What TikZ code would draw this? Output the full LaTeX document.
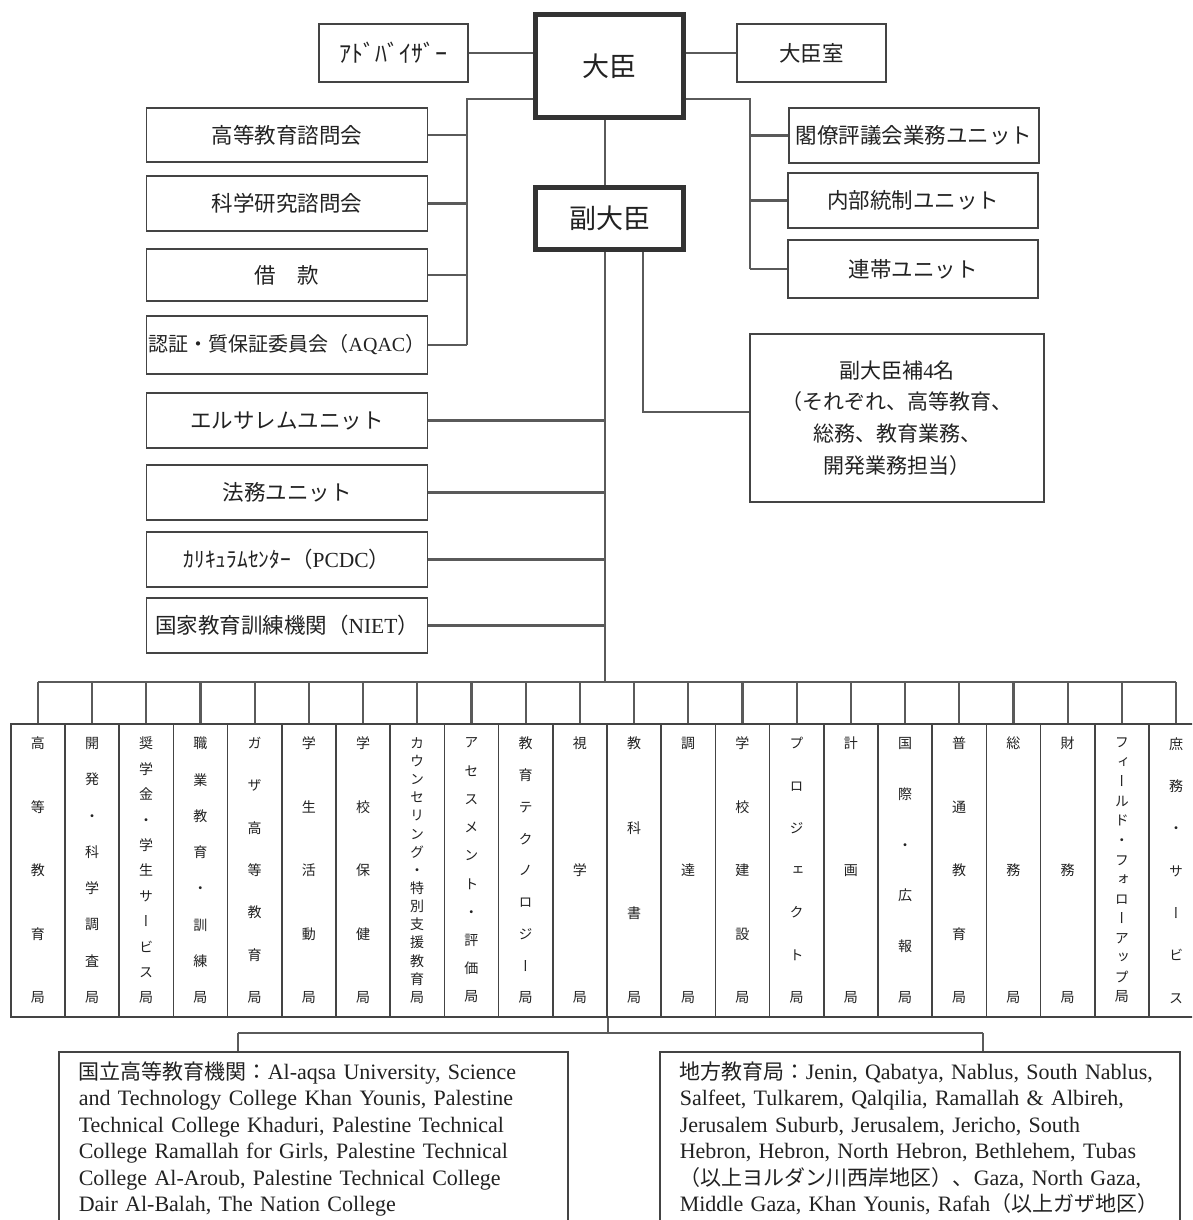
\documentclass[tikz,border=0pt]{standalone}
\usepackage{fontspec}
\setmainfont{Liberation Serif}
\newfontfamily\cjk{Noto Sans CJK JP}
\newfontfamily\cjkv[RawFeature=+vert]{Noto Sans CJK JP}
\definecolor{boxc}{HTML}{444444}
\definecolor{linec}{HTML}{5A5A5A}
\definecolor{bigc}{HTML}{333333}
\definecolor{txt}{HTML}{222222}
\newcommand\colnode[3]{\node[colbox, font={\cjkv\fontsize{14}{#2}\selectfont}] (c#1) at ({37.8+54.2*(#1-1)},870.5) {#3};}
\newcommand\jp[1]{{\cjk\fontsize{21}{26.4}\selectfont #1}}
\begin{document}
\begin{tikzpicture}[x=1pt,y=-1pt,
  box/.style={draw=boxc, line width=1.6pt, rectangle, inner sep=0pt, align=center, text=txt, font={\cjk\fontsize{21.5}{25}\selectfont}},
  bigbox/.style={draw=bigc, line width=5pt, rectangle, inner sep=0pt, align=center, text=txt, font={\cjk\fontsize{27}{32}\selectfont}},
  conn/.style={draw=linec, line width=2.2pt},
  colbox/.style={draw=boxc, line width=1.6pt, rectangle, inner sep=0pt, minimum width=54.2pt, minimum height=293pt, align=center, text=txt},
  infobox/.style={draw=boxc, line width=1.6pt, rectangle, anchor=north west, inner xsep=20pt, inner ysep=10pt, align=left, text=txt, font={\fontsize{22}{26.4}\selectfont}}
]
\useasboundingbox (0,0) rectangle (1192,1220);
\fill[white] (0,0) rectangle (1192,1220);
\clip (0,0) rectangle (1192,1220);

% top level
\node[bigbox, minimum width=148pt, minimum height=103pt] (min) at (609.5,66) {大臣};
\node[box, minimum width=149pt, minimum height=58pt, font={\cjk\fontsize{24}{28}\selectfont}] (adv) at (393.5,53) {ｱﾄﾞﾊﾞｲｻﾞｰ};
\node[box, minimum width=149pt, minimum height=58pt] (office) at (811.5,53) {大臣室};

% left councils
\node[box, minimum width=281pt, minimum height=54pt] (hec) at (287,135) {高等教育諮問会};
\node[box, minimum width=281pt, minimum height=55pt] (src) at (287,203.5) {科学研究諮問会};
\node[box, minimum width=281pt, minimum height=52pt] (loan) at (287,275) {借　款};
\node[box, minimum width=281pt, minimum height=58pt, font={\cjk\fontsize{20}{24}\selectfont}] (aqac) at (287,345) {認証・質保証委員会（{\rmfamily AQAC}）};

% right units
\node[box, minimum width=250pt, minimum height=55pt] (cab) at (914,135.5) {閣僚評議会業務ユニット};
\node[box, minimum width=250pt, minimum height=55pt] (ic) at (913,200.5) {内部統制ユニット};
\node[box, minimum width=250pt, minimum height=58pt] (sol) at (913,269) {連帯ユニット};

% vice minister
\node[bigbox, minimum width=148pt, minimum height=62pt] (vice) at (609.5,218.5) {副大臣};
\node[box, minimum width=294pt, minimum height=168pt, font={\cjk\fontsize{21}{31.7}\selectfont}] (asst) at (897,418) {副大臣補{\rmfamily 4}名\\（それぞれ、高等教育、\\総務、教育業務、\\開発業務担当）};

% units under vice minister
\node[box, minimum width=281pt, minimum height=55pt] (jer) at (287,420.5) {エルサレムユニット};
\node[box, minimum width=281pt, minimum height=55pt] (legal) at (287,492.5) {法務ユニット};
\node[box, minimum width=281pt, minimum height=55pt] (pcdc) at (287,559.5) {ｶﾘｷｭﾗﾑｾﾝﾀｰ（{\rmfamily PCDC}）};
\node[box, minimum width=281pt, minimum height=55pt] (niet) at (287,625.5) {国家教育訓練機関（{\rmfamily NIET}）};

% connectors top
\coordinate (lbus) at (467,99);
\coordinate (rbus) at (750,99);
\coordinate (trunk) at (605,682);
\coordinate (ab) at (643,412);
\draw[conn] (adv.east) -- (adv.east -| min.west);
\draw[conn] (min.east |- office.west) -- (office.west);
\draw[conn] (min.west |- lbus) -- (lbus) -- (lbus |- aqac.east);
\foreach \n in {hec,src,loan,aqac} \draw[conn] (\n.east) -- (\n.east -| lbus);
\draw[conn] (min.east |- rbus) -- (rbus) -- (rbus |- sol.west);
\foreach \n in {cab,ic,sol} \draw[conn] (\n.west) -- (\n.west -| rbus);
\draw[conn] (min.south -| trunk) -- (vice.north -| trunk);
\draw[conn] (vice.south -| trunk) -- (trunk);
\draw[conn] (vice.south -| ab) -- (ab) -- (ab -| asst.west);
\foreach \n in {jer,legal,pcdc,niet} \draw[conn] (\n.east) -- (\n.east -| trunk);

% departments
\colnode{1}{63.5}{高\\等\\教\\育\\局}
\colnode{2}{36.29}{開\\発\\・\\科\\学\\調\\査\\局}
\colnode{3}{25.4}{奨\\学\\金\\・\\学\\生\\サ\\ー\\ビ\\ス\\局}
\colnode{4}{36.29}{職\\業\\教\\育\\・\\訓\\練\\局}
\colnode{5}{42.33}{ガ\\ザ\\高\\等\\教\\育\\局}
\colnode{6}{63.5}{学\\生\\活\\動\\局}
\colnode{7}{63.5}{学\\校\\保\\健\\局}
\colnode{8}{18.14}{カ\\ウ\\ン\\セ\\リ\\ン\\グ\\・\\特\\別\\支\\援\\教\\育\\局}
\colnode{9}{28.22}{ア\\セ\\ス\\メ\\ン\\ト\\・\\評\\価\\局}
\colnode{10}{31.75}{教\\育\\テ\\ク\\ノ\\ロ\\ジ\\ー\\局}
\colnode{11}{127}{視\\学\\局}
\colnode{12}{84.67}{教\\科\\書\\局}
\colnode{13}{127}{調\\達\\局}
\colnode{14}{63.5}{学\\校\\建\\設\\局}
\colnode{15}{42.33}{プ\\ロ\\ジ\\ェ\\ク\\ト\\局}
\colnode{16}{127}{計\\画\\局}
\colnode{17}{50.8}{国\\際\\・\\広\\報\\局}
\colnode{18}{63.5}{普\\通\\教\\育\\局}
\colnode{19}{127}{総\\務\\局}
\colnode{20}{127}{財\\務\\局}
\colnode{21}{19.54}{フ\\ィ\\ー\\ル\\ド\\・\\フ\\ォ\\ロ\\ー\\ア\\ッ\\プ\\局}
\colnode{22}{42.33}{庶\\務\\・\\サ\\ー\\ビ\\ス}

\draw[conn] (c1.north |- trunk) -- (c22.north |- trunk);
\foreach \i in {1,...,22} \draw[conn] (c\i.north) -- (c\i.north |- trunk);

% bottom boxes
\node[infobox, text width=469pt] (inst) at (58,1051) {%
\mbox{\jp{国立高等教育機関：}Al-aqsa University, Science}\\
\mbox{and Technology College Khan Younis, Palestine}\\
\mbox{Technical College Khaduri, Palestine Technical}\\
\mbox{College Ramallah for Girls, Palestine Technical}\\
\mbox{College Al-Aroub, Palestine Technical College}\\
\mbox{Dair Al-Balah, The Nation College}};
\node[infobox, text width=480pt] (reg) at (659,1051) {%
\mbox{\jp{地方教育局：}Jenin, Qabatya, Nablus, South Nablus,}\\
\mbox{Salfeet, Tulkarem, Qalqilia, Ramallah \& Albireh,}\\
\mbox{Jerusalem Suburb, Jerusalem, Jericho, South}\\
\mbox{Hebron, Hebron, North Hebron, Bethlehem, Tubas}\\
\mbox{\jp{（以上ヨルダン川西岸地区）、}Gaza, North Gaza,}\\
\mbox{Middle Gaza, Khan Younis, Rafah\jp{（以上ガザ地区）}}};

\coordinate (lb) at (605,1033);
\coordinate (dl) at (238,1033);
\coordinate (dr) at (983,1033);
\draw[conn] (c11.south east) -- (c11.south east |- lb);
\draw[conn] (dl) -- (dr);
\draw[conn] (dl) -- (dl |- inst.north);
\draw[conn] (dr) -- (dr |- reg.north);
\end{tikzpicture}
\end{document}
